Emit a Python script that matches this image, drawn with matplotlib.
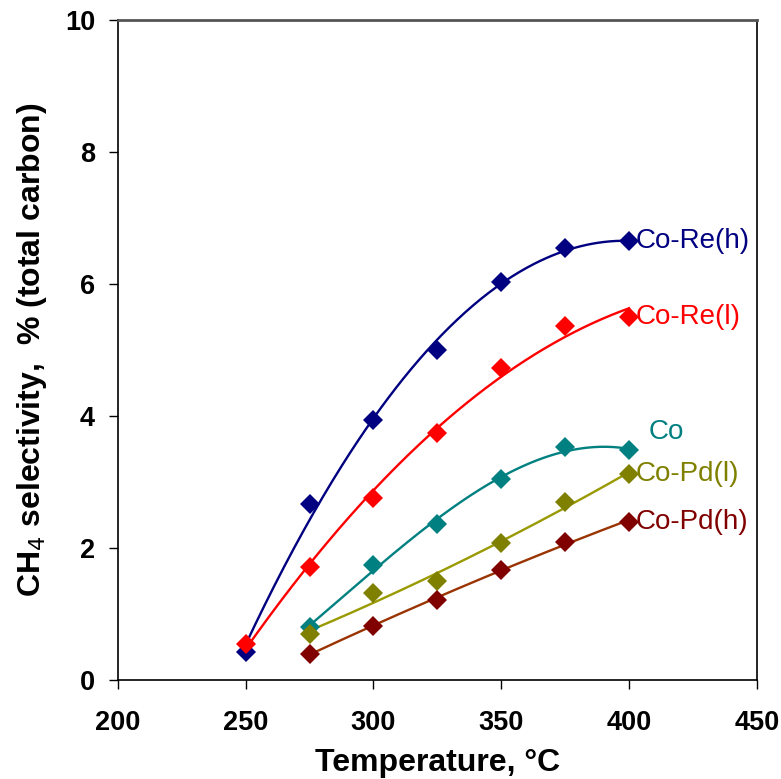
import numpy as np
import matplotlib
matplotlib.use('Agg')
import matplotlib.pyplot as plt

plt.rcParams['font.family'] = ['Liberation Sans', 'DejaVu Sans']

# Temperature, deg C
temp_re = [250, 275, 300, 325, 350, 375, 400]
temp = [275, 300, 325, 350, 375, 400]

# CH4 selectivity, % of total carbon
co_re_h = [0.42, 2.67, 3.94, 5.00, 6.04, 6.55, 6.65]
co_re_l = [0.55, 1.72, 2.76, 3.74, 4.73, 5.36, 5.50]
co = [0.80, 1.75, 2.37, 3.05, 3.53, 3.48]
co_pd_l = [0.70, 1.32, 1.50, 2.07, 2.70, 3.12]
co_pd_h = [0.40, 0.82, 1.22, 1.67, 2.10, 2.40]

series = [
    # name, x, y, marker colour, line colour, fit order, label pos
    ('Co-Re(h)', temp_re, co_re_h, '#000080', '#000080', 2, (402.5, 6.65)),
    ('Co-Re(l)', temp_re, co_re_l, '#FF0000', '#FF0000', 2, (402.5, 5.5)),
    ('Co', temp, co, '#008080', '#008080', 3, (407.5, 3.76)),
    ('Co-Pd(l)', temp, co_pd_l, '#808000', '#999900', 2, (402.5, 3.12)),
    ('Co-Pd(h)', temp, co_pd_h, '#800000', '#993300', 2, (402.5, 2.4)),
]

fig = plt.figure(figsize=(7.81, 7.79), dpi=100)
ax = fig.add_axes([0.151, 0.127, 0.818, 0.847])

for name, x, y, mc, lc, order, pos in series:
    # trendline through the points
    coef = np.polyfit(x, y, order)
    xs = np.linspace(min(x), max(x), 200)
    ax.plot(xs, np.polyval(coef, xs), color=lc, lw=1.7, zorder=2)
    ax.plot(x, y, 'D', color=mc, ms=10, mew=0, zorder=3)
    ax.text(pos[0], pos[1], name, color=mc, fontsize=20, va='center', ha='left')

ax.set_xlim(200, 450)
ax.set_ylim(0, 10)
ax.set_xticks(range(200, 451, 50))
ax.set_yticks(range(0, 11, 2))
ax.tick_params(direction='out', length=6.5, width=1, labelsize=19.5)
ax.tick_params(axis='x', pad=15)
ax.tick_params(axis='y', pad=10)
for lab in ax.get_xticklabels() + ax.get_yticklabels():
    lab.set_fontweight('bold')
for side in ['left', 'bottom', 'right']:
    ax.spines[side].set_linewidth(1.2)
ax.spines['top'].set_linewidth(2)
ax.spines['top'].set_color('#555555')

ax.set_xlabel('Temperature, °C', fontsize=23, fontweight='bold', labelpad=9)
ax.set_ylabel('CH$_4$ selectivity,  % (total carbon)', fontsize=23, fontweight='bold', labelpad=11)

fig.savefig('out.png', dpi=100)
